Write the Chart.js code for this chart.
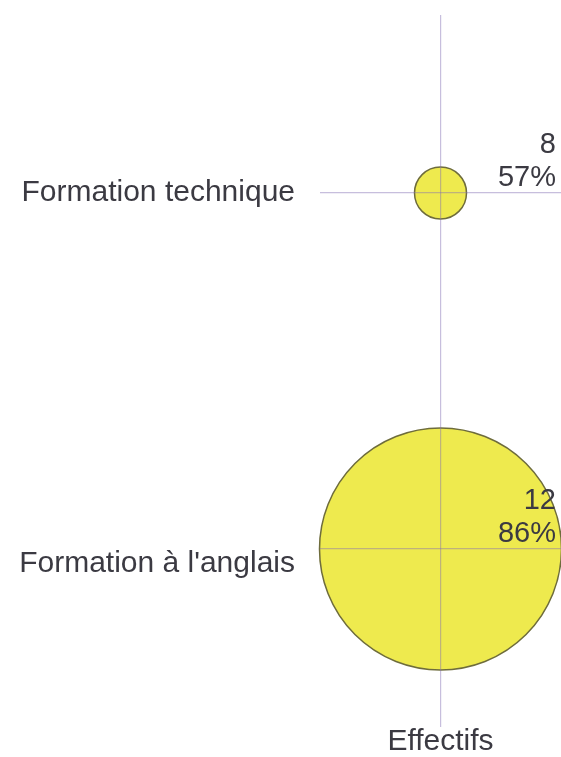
<!DOCTYPE html>
<html>
<head>
<meta charset="utf-8">
<script src="https://cdn.jsdelivr.net/npm/chart.js@4"></script>
<style>
html,body{margin:0;padding:0;background:#fff;}
#wrap{width:561px;height:757px;}
</style>
</head>
<body>
<div id="wrap"><canvas id="c" width="561" height="757"></canvas></div>
<script>
// Data
const categories = ["Formation technique", "Formation à l'anglais"];
const counts = [8, 12];
const percents = [57, 86];
const xTitle = "Effectifs";

// Styling constants
const R_MIN = 26, R_MAX = 121;
const cMin = Math.min(...counts), cMax = Math.max(...counts);
const radiusFor = c => R_MIN + (c - cMin) * (R_MAX - R_MIN) / (cMax - cMin);
const TEXT = '#3b3a42';
const FONT = "'Liberation Sans', Arial, sans-serif";
const GRID = 'rgba(130,110,180,0.45)';

const labelPlugin = {
  id: 'bubbleLabels',
  afterDatasetsDraw(chart) {
    const ctx = chart.ctx;
    const ys = chart.scales.y;
    const right = chart.chartArea.right - 5;
    ctx.save();
    ctx.font = "29px " + FONT;
    ctx.fillStyle = TEXT;
    ctx.textAlign = 'right';
    ctx.textBaseline = 'alphabetic';
    categories.forEach((cat, i) => {
      const y = ys.getPixelForValue(i) - 7;
      ctx.fillText(percents[i] + '%', right, y);
      ctx.fillText(String(counts[i]), right, y - 33);
    });
    ctx.restore();
  }
};

new Chart(document.getElementById('c'), {
  type: 'bubble',
  data: {
    datasets: [{
      data: categories.map((cat, i) => ({ x: 0, y: cat, r: radiusFor(counts[i]) })),
      backgroundColor: '#eeea4e',
      borderColor: '#6e6c3c',
      borderWidth: 1.5,
      hoverBorderWidth: 1.5,
      clip: false
    }]
  },
  options: {
    responsive: false,
    animation: false,
    events: [],
    layout: { autoPadding: false, padding: { top: 15, right: 0, left: 0, bottom: 0 } },
    plugins: { legend: { display: false }, tooltip: { enabled: false } },
    scales: {
      x: {
        type: 'linear',
        min: -1, max: 1,
        ticks: { display: false, stepSize: 1 },
        border: { display: false },
        grid: {
          z: 1,
          drawTicks: false,
          lineWidth: 1.2,
          color: ctx => (ctx.tick && ctx.tick.value === 0) ? GRID : 'rgba(0,0,0,0)'
        },
        title: {
          display: true,
          text: xTitle,
          color: TEXT,
          font: { family: FONT, size: 30, lineHeight: 1.0 },
          padding: { top: 0, bottom: 0 }
        },
        afterFit: s => { s.height = 30; s.paddingLeft = 0; s.paddingRight = 0; }
      },
      y: {
        type: 'category',
        labels: categories,
        offset: true,
        border: { display: false },
        grid: {
          z: 1,
          drawTicks: false,
          lineWidth: 1.2,
          color: GRID
        },
        ticks: {
          color: TEXT,
          font: { family: FONT, size: 30, lineHeight: 1.0 },
          padding: 25,
          callback: function(v, i) {
            const lab = this.getLabelForValue(v);
            return i === 1 ? ['', lab] : lab;
          }
        },
        afterFit: s => { s.width = 320; s.paddingTop = 0; s.paddingBottom = 0; }
      }
    }
  },
  plugins: [labelPlugin]
});
</script>
</body>
</html>
